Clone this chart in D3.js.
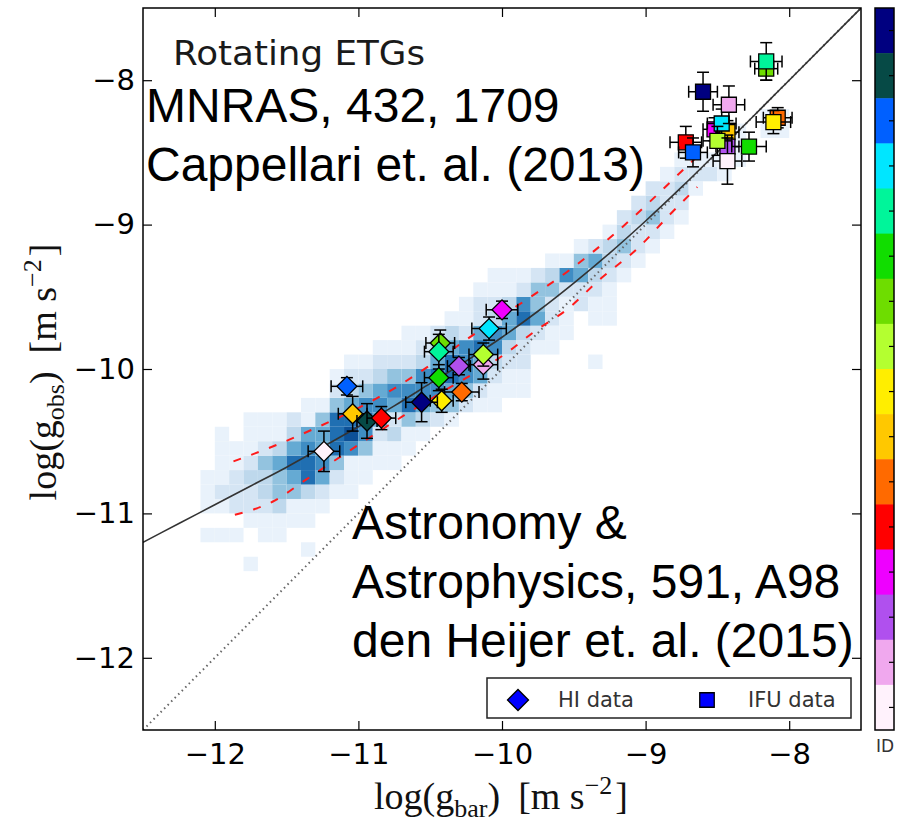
<!DOCTYPE html>
<meta charset="utf-8">
<style>
body { margin: 0; background: #fff; }
svg { display: block; }
</style>
<svg width="897" height="825"></svg>
<script src="https://cdn.jsdelivr.net/npm/d3@7"></script>
<script>

// colour of each galaxy ID (colorbar, top to bottom)
var idColors = ["#000080", "#064a46", "#0060ff", "#00e6ff", "#00f59a", "#11dd00",
  "#6edd00", "#b4ff30", "#ffee00", "#ffc800", "#ff6a00", "#ff0000",
  "#ee00ff", "#b050ee", "#f0a8ee", "#fff2fc"];

// HI data: [log gbar, log gobs, err gbar, err gobs, id]
var hiData = [
  [-10.43, -9.82, 0.10, 0.09, 6],
  [-10.44, -9.88, 0.10, 0.12, 4],
  [-10.13, -9.97, 0.10, 0.10, 14],
  [-10.13, -9.90, 0.10, 0.08, 7],
  [-10.30, -9.98, 0.08, 0.06, 13],
  [-10.44, -10.06, 0.10, 0.09, 5],
  [-10.00, -9.59, 0.11, 0.06, 12],
  [-10.09, -9.72, 0.12, 0.08, 3],
  [-11.08, -10.12, 0.11, 0.06, 2],
  [-10.28, -10.16, 0.12, 0.06, 10],
  [-10.42, -10.22, 0.08, 0.08, 8],
  [-10.56, -10.23, 0.11, 0.135, 0],
  [-11.04, -10.31, 0.10, 0.12, 9],
  [-10.94, -10.36, 0.07, 0.12, 1],
  [-10.84, -10.34, 0.10, 0.08, 11],
  [-11.24, -10.57, 0.11, 0.14, 15]
];

// IFU data: [log gbar, log gobs, err gbar, err gobs, id]
var ifuData = [
  [-8.52, -8.34, 0.08, 0.08, 12],
  [-8.43, -8.36, 0.08, 0.08, 9],
  [-8.47, -8.30, 0.10, 0.10, 3],
  [-8.43, -8.46, 0.08, 0.08, 13],
  [-8.50, -8.42, 0.10, 0.10, 7],
  [-8.43, -8.56, 0.10, 0.16, 15],
  [-8.28, -8.46, 0.12, 0.10, 5],
  [-8.72, -8.43, 0.11, 0.11, 11],
  [-8.67, -8.50, 0.10, 0.10, 2],
  [-8.60, -8.08, 0.10, 0.135, 0],
  [-8.42, -8.17, 0.11, 0.13, 14],
  [-8.08, -8.26, 0.10, 0.07, 10],
  [-8.11, -8.29, 0.12, 0.08, 8],
  [-8.16, -7.92, 0.08, 0.08, 6],
  [-8.16, -7.87, 0.11, 0.13, 4]
];

// 2D histogram of rotation curve points, 0.1 dex bins
// [left edge gbar, bottom edge gobs, shade levels going up]
var histColumns = [
  [-12.1, -11.2, [1,0,1,1,1]],
  [-12.0, -11.2, [1,0,1,2,1,1,1,1]],
  [-11.9, -11.2, [1,0,2,2,2,1,1]],
  [-11.8, -11.4, [1,0,0,1,2,2,3,2,1,1,1]],
  [-11.7, -11.2, [1,1,2,3,3,4,2,1,1]],
  [-11.6, -11.2, [1,1,3,4,4,5,3,1,1]],
  [-11.5, -11.1, [1,1,4,5,7,5,3,2]],
  [-11.4, -11.3, [1,0,1,1,3,7,7,6,5,1,1]],
  [-11.3, -11.0, [1,2,5,6,5,5,4,1]],
  [-11.2, -10.9, [1,2,4,7,7,7,4,2,1]],
  [-11.1, -10.9, [1,1,1,6,8,7,5,3,2,1]],
  [-11.0, -10.8, [1,1,4,6,7,6,4,2,1]],
  [-10.9, -10.7, [1,1,2,5,6,5,3,2,1]],
  [-10.8, -10.7, [1,1,3,2,5,6,4,2,1]],
  [-10.7, -10.6, [1,1,4,7,6,4,2,1,1]],
  [-10.6, -10.5, [1,3,5,6,6,3,2,1]],
  [-10.5, -10.4, [2,4,6,7,5,3,2]],
  [-10.4, -10.4, [1,4,5,7,7,5,3,1]],
  [-10.3, -10.3, [2,4,6,6,6,2,1,1]],
  [-10.2, -10.3, [1,2,5,5,7,5,2,2,1]],
  [-10.1, -10.3, [1,1,2,3,6,6,3,2,1,1]],
  [-10.0, -10.2, [1,1,2,3,5,5,3,1,1]],
  [-9.9, -10.2, [1,1,2,2,3,7,6,2,1]],
  [-9.8, -9.9, [1,2,5,4,4,2]],
  [-9.7, -9.9, [1,1,2,2,4,3,1]],
  [-9.6, -9.8, [1,1,1,2,6,1]],
  [-9.5, -9.6, [2,2,5,4,1]],
  [-9.4, -10.0, [1,0,0,1,1,2,3,5,2]],
  [-9.3, -9.7, [1,1,1,2,3,3,1]],
  [-9.2, -9.4, [1,2,4,3,2]],
  [-9.1, -9.3, [1,2,2,3,2]],
  [-9.0, -9.2, [1,2,4,3,2]],
  [-8.9, -9.1, [1,2,2,2,1]],
  [-8.8, -9.0, [1,2,3,2,1]],
  [-8.7, -8.8, [1,2,1]],
  [-8.6, -8.7, [2,1]],
  [-8.5, -8.7, [1,1]],
  [-8.4, -8.6, [1,1,1]],
  [-8.2, -8.4, [1,1]],
  [-8.1, -8.4, [1,1]]
];

// fitted relation (solid), its scatter (red dashed) and the 1:1 line
var fitCurve = [[-12.5,-11.20],[-12.25,-11.07],[-12.0,-10.94],[-11.75,-10.81],[-11.5,-10.68],
  [-11.25,-10.54],[-11.0,-10.40],[-10.75,-10.255],[-10.5,-10.10],[-10.25,-9.945],[-10.0,-9.78],
  [-9.75,-9.60],[-9.5,-9.405],[-9.25,-9.197],[-9.0,-8.975],[-8.75,-8.741],[-8.5,-8.497],
  [-8.25,-8.2495],[-8.0,-8.0],[-7.5,-7.5]];
var upperBand = [[-11.87,-10.64],[-11.58,-10.53],[-11.30,-10.41],[-11.02,-10.28],[-10.71,-10.11],
  [-10.51,-9.98],[-10.18,-9.75],[-9.83,-9.52],[-9.55,-9.33],[-9.20,-9.05],[-8.99,-8.86],
  [-8.78,-8.66],[-8.62,-8.51]];
var lowerBand = [[-11.86,-11.01],[-11.58,-10.91],[-11.37,-10.77],[-11.16,-10.63],[-10.93,-10.48],
  [-10.68,-10.32],[-10.40,-10.15],[-9.97,-9.89],[-9.76,-9.73],[-9.55,-9.59],[-9.32,-9.38],
  [-9.04,-9.15],[-8.85,-8.95],[-8.64,-8.74]];
var oneToOne = [[-12.5,-12.5],[-7.5,-7.5]];

var tickValues = [-12, -11, -10, -9, -8];
var shade = [0, 0.07, 0.17, 0.27, 0.4, 0.52, 0.64, 0.76, 0.88];

var svg = d3.select("svg");
svg.append("rect").attr("width", 897).attr("height", 825).attr("fill", "#fff");

var x = d3.scaleLinear().domain([-12.5, -7.5]).range([143, 861]);
var y = d3.scaleLinear().domain([-12.5, -7.5]).range([730, 8]);

svg.append("clipPath").attr("id", "plotclip")
  .append("rect").attr("x", 143).attr("y", 8).attr("width", 718).attr("height", 722);
var plot = svg.append("g").attr("clip-path", "url(#plotclip)");

// histogram cells
var cells = [];
histColumns.forEach(function(c) {
  c[2].forEach(function(v, i) {
    if (v > 0) cells.push({ x0: c[0], y0: c[1] + i * 0.1, v: v });
  });
});
plot.selectAll("rect.cell")
  .data(cells)
  .enter().append("rect")
    .attr("class", "cell")
    .attr("x", function(d) { return x(d.x0); })
    .attr("y", function(d) { return y(d.y0 + 0.1); })
    .attr("width", function(d) { return x(d.x0 + 0.1) - x(d.x0); })
    .attr("height", function(d) { return y(d.y0) - y(d.y0 + 0.1); })
    .attr("fill", function(d) { return d3.interpolateBlues(shade[d.v]); });

var line = d3.line()
  .x(function(d) { return x(d[0]); })
  .y(function(d) { return y(d[1]); });
var smooth = d3.line()
  .x(function(d) { return x(d[0]); })
  .y(function(d) { return y(d[1]); })
  .curve(d3.curveMonotoneX);

plot.append("path").datum(oneToOne)
  .attr("d", line).attr("fill", "none")
  .attr("stroke", "#666").attr("stroke-width", 2)
  .attr("stroke-dasharray", "1.5 3.5");

[upperBand, lowerBand].forEach(function(b) {
  plot.append("path").datum(b)
    .attr("d", smooth).attr("fill", "none")
    .attr("stroke", "#ff1a1a").attr("stroke-width", 2)
    .attr("stroke-dasharray", "8 11");
});

plot.append("path").datum(fitCurve)
  .attr("d", smooth).attr("fill", "none")
  .attr("stroke", "#333").attr("stroke-width", 1.6);

// points with error bars
function drawPoints(data, symbolType, size, angle) {
  var g = plot.selectAll(null)
    .data(data)
    .enter().append("g");
  var cap = 6;
  g.append("line")
    .attr("x1", function(d) { return x(d[0] - d[2]); })
    .attr("x2", function(d) { return x(d[0] + d[2]); })
    .attr("y1", function(d) { return y(d[1]); })
    .attr("y2", function(d) { return y(d[1]); });
  g.append("line")
    .attr("x1", function(d) { return x(d[0]); })
    .attr("x2", function(d) { return x(d[0]); })
    .attr("y1", function(d) { return y(d[1] - d[3]); })
    .attr("y2", function(d) { return y(d[1] + d[3]); });
  [-1, 1].forEach(function(s) {
    g.append("line")
      .attr("x1", function(d) { return x(d[0] + s * d[2]); })
      .attr("x2", function(d) { return x(d[0] + s * d[2]); })
      .attr("y1", function(d) { return y(d[1]) - cap; })
      .attr("y2", function(d) { return y(d[1]) + cap; });
    g.append("line")
      .attr("x1", function(d) { return x(d[0]) - cap; })
      .attr("x2", function(d) { return x(d[0]) + cap; })
      .attr("y1", function(d) { return y(d[1] + s * d[3]); })
      .attr("y2", function(d) { return y(d[1] + s * d[3]); });
  });
  g.selectAll("line").attr("stroke", "#000").attr("stroke-width", 1.5);
  g.append("path")
    .attr("d", d3.symbol().type(symbolType).size(size))
    .attr("transform", function(d) { return "translate(" + x(d[0]) + "," + y(d[1]) + ") rotate(" + angle + ")"; })
    .attr("fill", function(d) { return idColors[d[4]]; })
    .attr("stroke", "#000").attr("stroke-width", 1.3);
}
drawPoints(hiData, d3.symbolSquare, 200, 45);
drawPoints(ifuData, d3.symbolSquare, 225, 0);

// axes
function styleAxis(g) {
  g.select(".domain").remove();
  g.selectAll(".tick line").attr("stroke", "#000").attr("stroke-width", 1.2);
  g.attr("font-family", "DejaVu Sans").attr("font-size", 29);
  g.selectAll("text").attr("fill", "#000");
}
var fmt = function(d) { return "\u2212" + Math.abs(d); };
svg.append("g").attr("transform", "translate(0,730)")
  .call(d3.axisBottom(x).tickValues(tickValues).tickSize(-9).tickPadding(13).tickFormat(fmt))
  .call(styleAxis);
svg.append("g").attr("transform", "translate(0,8)")
  .call(d3.axisTop(x).tickValues(tickValues).tickSize(-9).tickFormat(""))
  .call(styleAxis);
svg.append("g").attr("transform", "translate(143,0)")
  .call(d3.axisLeft(y).tickValues(tickValues).tickSize(-9).tickPadding(8).tickFormat(fmt))
  .call(styleAxis);
svg.append("g").attr("transform", "translate(861,0)")
  .call(d3.axisRight(y).tickValues(tickValues).tickSize(-9).tickFormat(""))
  .call(styleAxis);

svg.append("rect")
  .attr("x", 143).attr("y", 8).attr("width", 718).attr("height", 722)
  .attr("fill", "none").attr("stroke", "#000").attr("stroke-width", 1.5);

// axis titles
function mathLabel(t, sub) {
  t.attr("font-family", "Liberation Serif").attr("font-size", 38).attr("fill", "#111")
    .attr("text-anchor", "middle");
  t.append("tspan").text("log(g");
  t.append("tspan").attr("font-size", 26).attr("dy", 8).text(sub);
  t.append("tspan").attr("dy", -8).text(")");
  t.append("tspan").attr("dx", 18).text("[m s");
  t.append("tspan").attr("font-size", 26).attr("dy", -15).text("\u22122");
  t.append("tspan").attr("dy", 15).attr("dx", 3).text("]");
}
svg.append("text").attr("x", 501).attr("y", 809).call(mathLabel, "bar");
svg.append("text").attr("transform", "translate(56,372) rotate(-90)").call(mathLabel, "obs");

// annotations
svg.append("text")
  .attr("x", 173).attr("y", 65)
  .attr("font-family", "DejaVu Sans").attr("font-size", 33).attr("fill", "#1a1a1a")
  .attr("textLength", 252).attr("lengthAdjust", "spacingAndGlyphs")
  .text("Rotating ETGs");

var refs = [
  ["MNRAS, 432, 1709", 146, 122],
  ["Cappellari et. al. (2013)", 146, 181],
  ["Astronomy &", 352, 539],
  ["Astrophysics, 591, A98", 352, 598],
  ["den Heijer et. al. (2015)", 352, 657]
];
svg.selectAll("text.ref")
  .data(refs)
  .enter().append("text")
    .attr("class", "ref")
    .attr("x", function(d) { return d[1]; })
    .attr("y", function(d) { return d[2]; })
    .attr("font-family", "Liberation Sans").attr("font-size", 48).attr("fill", "#000")
    .text(function(d) { return d[0]; });

// legend
var lg = svg.append("g");
lg.append("rect").attr("x", 487).attr("y", 678).attr("width", 364).attr("height", 40)
  .attr("fill", "#fff").attr("stroke", "#222").attr("stroke-width", 1.5);
lg.append("path").attr("d", d3.symbol().type(d3.symbolSquare).size(220))
  .attr("transform", "translate(518,700) rotate(45)")
  .attr("fill", "#0000ff").attr("stroke", "#000").attr("stroke-width", 1.3);
lg.append("path").attr("d", d3.symbol().type(d3.symbolSquare).size(210))
  .attr("transform", "translate(707,700)")
  .attr("fill", "#0000ff").attr("stroke", "#000").attr("stroke-width", 1.3);
lg.selectAll("text")
  .data([["HI data", 558], ["IFU data", 748]])
  .enter().append("text")
    .attr("x", function(d) { return d[1]; })
    .attr("y", 707)
    .attr("font-family", "DejaVu Sans").attr("font-size", 21).attr("fill", "#333")
    .text(function(d) { return d[0]; });

// colorbar
var cb = d3.scaleBand().domain(d3.range(idColors.length)).range([8, 730]);
var cbg = svg.append("g");
cbg.selectAll("rect")
  .data(idColors)
  .enter().append("rect")
    .attr("x", 875).attr("width", 19)
    .attr("y", function(d, i) { return cb(i); })
    .attr("height", cb.bandwidth() + 0.5)
    .attr("fill", function(d) { return d; });
cbg.selectAll("line")
  .data(idColors)
  .enter().append("line")
    .attr("x1", 894).attr("x2", 889)
    .attr("y1", function(d, i) { return cb(i) + cb.bandwidth() / 2; })
    .attr("y2", function(d, i) { return cb(i) + cb.bandwidth() / 2; })
    .attr("stroke", "#000").attr("stroke-width", 1.2);
cbg.append("rect").attr("x", 875).attr("y", 8).attr("width", 19).attr("height", 722)
  .attr("fill", "none").attr("stroke", "#000").attr("stroke-width", 1.5);
cbg.append("text").attr("x", 876).attr("y", 752)
  .attr("font-family", "DejaVu Sans").attr("font-size", 17).attr("fill", "#333")
  .text("ID");

</script>
